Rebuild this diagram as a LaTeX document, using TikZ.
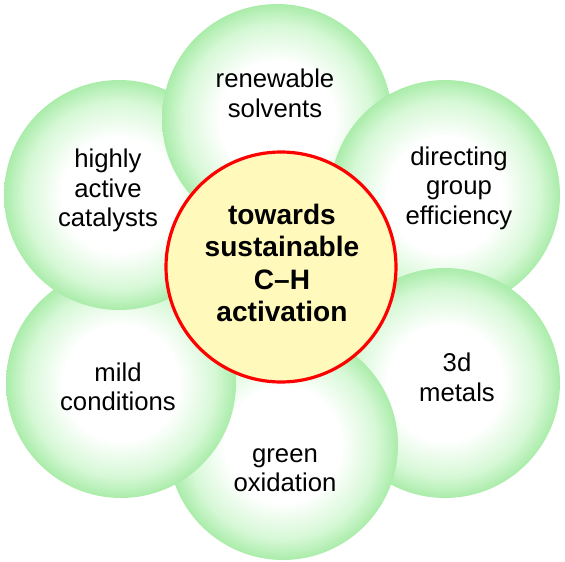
\documentclass[tikz,border=0pt]{standalone}
\usepackage{fontspec}
\setmainfont{Liberation Sans}
\definecolor{bubedge}{RGB}{170,236,170}
\definecolor{bubmid}{RGB}{214,248,214}
\definecolor{hubfill}{RGB}{255,249,187}
\definecolor{hubline}{RGB}{255,0,0}
\pgfdeclareradialshading{bubble}{\pgfpoint{0bp}{0bp}}{color(0bp)=(white); color(12.5bp)=(white); color(20.5bp)=(bubmid); color(25bp)=(bubedge); color(50bp)=(bubedge)}
\tikzset{
  bub/.style={circle, minimum size=230pt, inner sep=0pt, shading=bubble},
  lbl/.style={align=center, font=\fontsize{25.7}{29.5}\selectfont, inner sep=0pt},
  hub/.style={circle, minimum size=230pt, inner sep=0pt, fill=hubfill, draw=hubline, line width=3.2pt},
  hubtxt/.style={align=center, font=\fontsize{28.1}{32.5}\selectfont\bfseries, inner sep=0pt}
}
\begin{document}
\begin{tikzpicture}[x=1pt, y=-1pt]
\useasboundingbox (0,0) rectangle (565,562);
\node[bub] (ul) at (119,195) {};
\node[bub] (t)  at (277,119) {};
\node[bub] (ur) at (445,195) {};
\node[bub] (lr) at (445,383) {};
\node[bub] (b)  at (283,445) {};
\node[bub] (ll) at (121,383) {};
\begin{scope}
  \clip (ll.center) circle (119);
  \path[shading=bubble] (ul.center) circle (115);
\end{scope}
\node[hub] (c) at (281,267) {};
\node[lbl] (tl)  at (275,93.1)  {renewable\\solvents};
\node[lbl] (ull) at (108,190.8) {highly\\active\\catalysts};
\node[lbl] (url) at (459,188.2) {directing\\group\\efficiency};
\node[lbl] (lrl) at (457,377.2) {3d\\metals};
\node[lbl] (bl)  at (285,470.2) {green\\oxidation};
\node[lbl] (lll) at (118,386.8) {mild\\conditions};
\node[hubtxt] (ct) at (282,263) {towards\\sustainable\\C–H\\activation};
\end{tikzpicture}
\end{document}
